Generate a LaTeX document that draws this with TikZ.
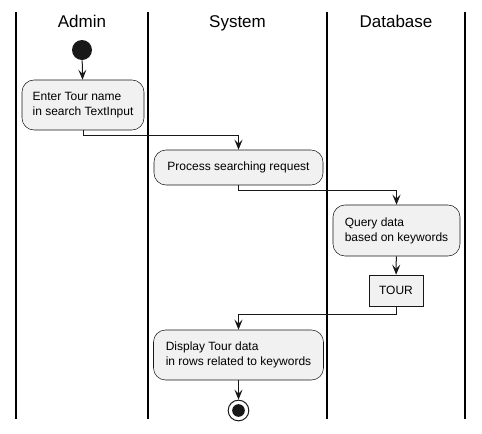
\documentclass[tikz,border=0pt]{standalone}
\usepackage{fontspec}
\setmainfont{Liberation Sans}
\usetikzlibrary{arrows.meta}
\definecolor{boxfill}{HTML}{F1F1F1}
\definecolor{boxline}{HTML}{181818}
\begin{document}
\begin{tikzpicture}[x=0.75pt,y=-0.75pt,
  lane/.style={line width=1.1pt,black},
  title/.style={anchor=base,font=\fontsize{12.75}{15}\selectfont},
  act/.style={draw=boxline,line width=0.4pt,fill=boxfill,rounded corners=9pt,
    align=left,inner xsep=7.5pt,inner ysep=0pt,
    font=\fontsize{9}{11.25}\selectfont},
  flow/.style={draw=boxline,line width=0.75pt,
    -{Stealth[length=7.5pt,width=6pt,inset=3pt]}}]
\useasboundingbox (0,0) rectangle (482,433);
\draw[lane] (16,12) -- (16,419);
\draw[lane] (148,12) -- (148,419);
\draw[lane] (327,12) -- (327,419);
\draw[lane] (465,12) -- (465,419);
\node[title] (admin) at (82,27) {Admin};
\node[title] (system) at (237.5,27) {System};
\node[title] (database) at (396,27) {Database};
\node[circle,fill=boxline,inner sep=0pt,minimum size=15pt] (start) at (82,50) {};
\node[act,minimum width=91.5pt,minimum height=37.5pt] (enter) at (83,105)
  {Enter Tour name\\in search TextInput};
\node[act,minimum width=126.75pt,minimum height=26.25pt] (process) at (238.5,167.5)
  {Process searching request};
\node[act,minimum width=95.25pt,minimum height=38.25pt] (query) at (396.5,230.5)
  {Query data\\based on keywords};
\node[draw=boxline,line width=0.4pt,fill=boxfill,minimum width=40.5pt,minimum height=23.25pt,
  inner sep=0pt,font=\fontsize{9}{11.25}\selectfont] (tour) at (396,290.5) {TOUR};
\node[act,minimum width=127.5pt,minimum height=37.5pt] (display) at (238.5,355)
  {Display Tour data\\in rows related to keywords};
\node[circle,draw=boxline,line width=0.75pt,inner sep=0pt,minimum size=15.5pt] (stop) at (238.5,410.5) {};
\node[circle,fill=boxline,inner sep=0pt,minimum size=9.5pt] (stopdot) at (stop) {};
\coordinate (j1) at (83,135);
\coordinate (j2) at (238.5,190.5);
\coordinate (j3) at (396,314);
\draw[flow] (start) -- (enter);
\draw[flow] (enter.south) -- (j1) -| (process.north);
\draw[flow] (process.south) -- (j2) -| (query.north);
\draw[flow] (query) -- (tour);
\draw[flow] (tour.south) -- (j3) -| (display.north);
\draw[flow] (display) -- (stop);
\end{tikzpicture}
\end{document}
